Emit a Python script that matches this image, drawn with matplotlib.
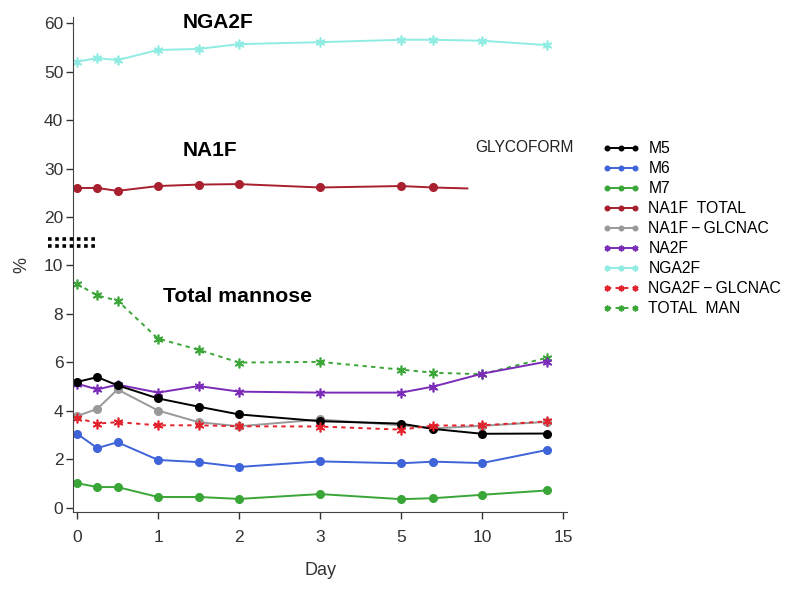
import numpy as np
import matplotlib.pyplot as plt
from matplotlib.lines import Line2D

plt.rcParams['font.family'] = ['Liberation Sans', 'DejaVu Sans']

# days sampled
days = [0, 0.25, 0.5, 1, 1.5, 2, 3, 5, 7, 10, 14]

m5 = [5.19, 5.39, 5.05, 4.51, 4.17, 3.85, 3.57, 3.47, 3.25, 3.05, 3.06]
m6 = [3.05, 2.46, 2.70, 1.97, 1.88, 1.68, 1.91, 1.83, 1.90, 1.84, 2.38]
m7 = [1.01, 0.85, 0.85, 0.44, 0.44, 0.36, 0.56, 0.35, 0.39, 0.53, 0.71]
na1f_glcnac = [3.78, 4.08, 4.88, 4.01, 3.53, 3.36, 3.64, 3.40, 3.27, 3.38, 3.54]
na2f = [5.12, 4.88, 5.08, 4.75, 5.02, 4.79, 4.75, 4.75, 5.00, 5.53, 6.03]
nga2f_glcnac = [3.71, 3.47, 3.53, 3.40, 3.40, 3.36, 3.35, 3.22, 3.39, 3.40, 3.56]
total_man = [9.24, 8.76, 8.55, 6.98, 6.52, 5.99, 6.02, 5.70, 5.57, 5.51, 6.19]
nga2f = [52.1, 52.8, 52.4, 54.5, 54.7, 55.7, 56.1, 56.6, 56.6, 56.4, 55.5]

# NA1F total: line runs on to ~day 9 with no marker there
na1f_days = [0, 0.25, 0.5, 1, 1.5, 2, 3, 5, 7, 9.1]
na1f_total = [26.0, 26.0, 25.4, 26.4, 26.7, 26.8, 26.1, 26.4, 26.1, 25.9]

xticks = [0, 1, 2, 3, 5, 10, 15]
yticks = [0, 2, 4, 6, 8, 10, 20, 30, 40, 50, 60]

# piecewise scales (broken-looking axes)
xd = [-100, 3, 5, 100]
xs = [-100, 3, 4, 4 + 95 / 5]
yd = [-100, 10, 1000]
ys = [-100, 10, 10 + 990 * 0.2]

def xfwd(v):
    return np.interp(v, xd, xs)

def xinv(v):
    return np.interp(v, xs, xd)

def yfwd(v):
    return np.interp(v, yd, ys)

def yinv(v):
    return np.interp(v, ys, yd)

fig = plt.figure(figsize=(7.95, 5.94), dpi=100)
ax = fig.add_axes([73 / 795, 1 - 512 / 594, (567 - 73) / 795, (512 - 17) / 594])
ax.set_xscale('function', functions=(xfwd, xinv))
ax.set_yscale('function', functions=(yfwd, yinv))

dot = dict(marker='o', markersize=5.5, linewidth=1.4)
star = dict(marker=(6, 2, 0), markersize=7, markeredgewidth=1.2, linewidth=1.4)
dash = (0, (2.2, 2.2))

ax.plot(days, nga2f, color='#8eece2', label='NGA2F', zorder=2, **star)
ax.plot(na1f_days, na1f_total, color='#a8202e', label='NA1F  TOTAL',
        markevery=list(range(9)), **dot)
ax.plot(days, total_man, color='#3aa637', linestyle=dash, label='TOTAL  MAN', **star)
ax.plot(days, na2f, color='#7a2cb8', label='NA2F', **star)
ax.plot(days, na1f_glcnac, color='#999999', label='NA1F\u2009\u2212\u2009GLCNAC', **dot)
ax.plot(days, m5, color='black', label='M5', **dot)
ax.plot(days, nga2f_glcnac, color='#e3222b', linestyle=dash, label='NGA2F\u2009\u2212\u2009GLCNAC', **star)
ax.plot(days, m6, color='#3f63d8', label='M6', **dot)
ax.plot(days, m7, color='#3aa637', label='M7', **dot)

ax.set_xlim(-0.05, 15.25)
ax.set_ylim(-0.18, 61.3)
ax.set_xticks(xticks)
ax.set_xticklabels([str(t) for t in xticks])
ax.set_yticks(yticks)
ax.set_yticklabels([str(t) for t in yticks])
ax.minorticks_off()
ax.tick_params(labelsize=12.5, colors='#333333', length=5, width=1)
ax.tick_params(axis='x', pad=8)
ax.tick_params(axis='y', pad=2)
for s in ['top', 'right']:
    ax.spines[s].set_visible(False)
for s in ['left', 'bottom']:
    ax.spines[s].set_color('#444444')

ax.set_xlabel('Day', fontsize=13, color='#333333', labelpad=12)
fig.text(22 / 795, 1 - 265 / 594, '%', rotation=90, fontsize=13,
         color='#333333', ha='center', va='center')

# break marks on the y axis
for yy in [238.5, 245.5]:
    fig.add_artist(Line2D([48 / 795, 96 / 795], [1 - yy / 594, 1 - yy / 594],
                          color='black', linewidth=2.6, linestyle=(0, (1.0, 1.0))))

fig.text(183 / 795, 1 - 22 / 594, 'NGA2F', fontsize=15, fontweight='bold', va='center')
fig.text(183 / 795, 1 - 151 / 594, 'NA1F', fontsize=15, fontweight='bold', va='center')
fig.text(163 / 795, 1 - 296 / 594, 'Total mannose', fontsize=15.3, fontweight='bold', va='center')
fig.text(475 / 795, 1 - 147 / 594, 'GLYCOFORM', fontsize=11.2, color='#222222', va='center')

handles, labels = ax.get_legend_handles_labels()
order = ['M5', 'M6', 'M7', 'NA1F  TOTAL', 'NA1F\u2009\u2212\u2009GLCNAC', 'NA2F', 'NGA2F',
         'NGA2F\u2009\u2212\u2009GLCNAC', 'TOTAL  MAN']
hmap = dict(zip(labels, handles))
fig.legend([hmap[k] for k in order], order, loc='upper left',
           bbox_to_anchor=(602 / 795, 1 - 141 / 594), frameon=False,
           fontsize=11.3, numpoints=3, markerscale=0.6, handlelength=2.4,
           handletextpad=0.55, labelspacing=0.32, borderpad=0, borderaxespad=0)

fig.savefig('out.png', dpi=100)
